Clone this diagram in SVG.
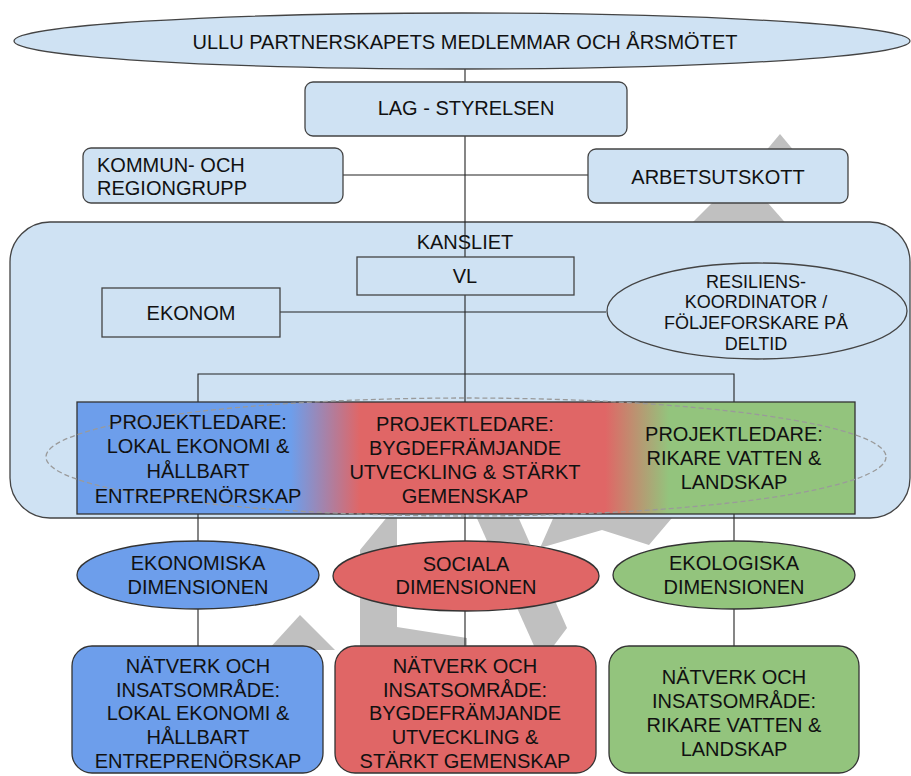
<svg xmlns="http://www.w3.org/2000/svg" width="911" height="776" viewBox="0 0 911 776">
<defs>
<linearGradient id="pl" x1="0" y1="0" x2="1" y2="0">
<stop offset="0" stop-color="#6d9eeb"/>
<stop offset="0.275" stop-color="#6d9eeb"/>
<stop offset="0.364" stop-color="#e06666"/>
<stop offset="0.679" stop-color="#e06666"/>
<stop offset="0.761" stop-color="#93c47d"/>
<stop offset="1" stop-color="#93c47d"/>
</linearGradient>
<style>
text{font-family:"Liberation Sans",Arial,sans-serif;font-size:20px;fill:#111;text-anchor:middle}
.lb{fill:#cfe2f3;stroke:#444;stroke-width:1.3}
.bl{fill:#6d9eeb;stroke:#333;stroke-width:1.3}
.rd{fill:#e06666;stroke:#333;stroke-width:1.3}
.gr{fill:#93c47d;stroke:#333;stroke-width:1.3}
.wm{fill:#c0c0c0}
.cn{stroke:#222;stroke-width:1.1;fill:none}
.sm{font-size:18px}
</style>
</defs>
<rect width="911" height="776" fill="#fff"/>
<g id="watermark">
<polygon class="wm" points="780,134 800,158 760,158"/>
<polygon class="wm" points="721,194 760,194 790,228 687,228"/>
<polygon class="wm" points="268,650 300,615 335,650"/>
<polygon class="wm" points="360,660 360,550 397,505 397,627 467,638 467,660"/>
<polygon class="wm" points="471,505 513,505 567,628 552,648 535,648"/>
<polygon class="wm" points="559,505 683,505 649,545 602,530 540,548"/>
</g>
<g id="kansliet">
<rect class="lb" x="10" y="222" width="900" height="296" rx="40"/>
<text x="465" y="249">KANSLIET</text>
</g>
<g id="connectors">
<line class="cn" x1="465" y1="68" x2="465" y2="402"/>
<line class="cn" x1="343" y1="175" x2="588" y2="175"/>
<line class="cn" x1="280" y1="312" x2="606" y2="312"/>
<polyline class="cn" points="198,402 198,374 734,374 734,402"/>
<line class="cn" x1="198" y1="514" x2="198" y2="646"/>
<line class="cn" x1="465" y1="514" x2="465" y2="646"/>
<line class="cn" x1="734" y1="514" x2="734" y2="646"/>
</g>
<g id="arsmotet">
<ellipse class="lb" cx="462" cy="41" rx="448" ry="28"/>
<text x="465" y="49">ULLU PARTNERSKAPETS MEDLEMMAR OCH ÅRSMÖTET</text>
</g>
<g id="styrelsen">
<rect class="lb" x="305" y="82" width="322" height="54" rx="8"/>
<text x="466" y="115">LAG - STYRELSEN</text>
</g>
<g id="kommun">
<rect class="lb" x="83" y="148" width="260" height="55" rx="8"/>
<text x="97" y="172" style="text-anchor:start">KOMMUN- OCH</text>
<text x="97" y="195" style="text-anchor:start">REGIONGRUPP</text>
</g>
<g id="arbetsutskott">
<rect class="lb" x="588" y="149" width="260" height="54" rx="8"/>
<text x="718" y="184">ARBETSUTSKOTT</text>
</g>
<g id="vl">
<rect class="lb" x="357" y="257" width="217" height="38"/>
<text x="465" y="283">VL</text>
</g>
<g id="ekonom">
<rect class="lb" x="102" y="288" width="178" height="49"/>
<text x="191" y="320">EKONOM</text>
</g>
<g id="resiliens">
<ellipse class="lb" cx="757" cy="311" rx="150" ry="48"/>
<text class="sm" x="756" y="288">RESILIENS-</text>
<text class="sm" x="756" y="308">KOORDINATOR /</text>
<text class="sm" x="756" y="329">FÖLJEFORSKARE PÅ</text>
<text class="sm" x="756" y="350">DELTID</text>
</g>
<g id="projektledare">
<rect x="77" y="402" width="778" height="112" fill="url(#pl)" stroke="#333" stroke-width="1.3"/>
<ellipse cx="466" cy="457" rx="420" ry="59" fill="none" stroke="#9a9a9a" stroke-width="1.3" stroke-dasharray="5 3"/>
<text x="198" y="429">PROJEKTLEDARE:</text>
<text x="198" y="453">LOKAL EKONOMI &amp;</text>
<text x="198" y="478">HÅLLBART</text>
<text x="198" y="503">ENTREPRENÖRSKAP</text>
<text x="465" y="431">PROJEKTLEDARE:</text>
<text x="465" y="455">BYGDEFRÄMJANDE</text>
<text x="465" y="479">UTVECKLING &amp; STÄRKT</text>
<text x="465" y="503">GEMENSKAP</text>
<text x="734" y="441">PROJEKTLEDARE:</text>
<text x="734" y="465">RIKARE VATTEN &amp;</text>
<text x="734" y="489">LANDSKAP</text>
</g>
<g id="ekonomiska">
<ellipse class="bl" cx="198" cy="575" rx="121" ry="34"/>
<text x="198" y="570">EKONOMISKA</text>
<text x="198" y="594">DIMENSIONEN</text>
</g>
<g id="sociala">
<ellipse class="rd" cx="466" cy="576" rx="133" ry="35"/>
<text x="466" y="571">SOCIALA</text>
<text x="466" y="594">DIMENSIONEN</text>
</g>
<g id="ekologiska">
<ellipse class="gr" cx="734" cy="575" rx="121" ry="34"/>
<text x="734" y="570">EKOLOGISKA</text>
<text x="734" y="594">DIMENSIONEN</text>
</g>
<g id="natverk-ekonomi">
<rect class="bl" x="72" y="646" width="251" height="127" rx="20"/>
<text x="198" y="673">NÄTVERK OCH</text>
<text x="198" y="697">INSATSOMRÅDE:</text>
<text x="198" y="720">LOKAL EKONOMI &amp;</text>
<text x="198" y="744">HÅLLBART</text>
<text x="198" y="768">ENTREPRENÖRSKAP</text>
</g>
<g id="natverk-social">
<rect class="rd" x="335" y="646" width="261" height="127" rx="20"/>
<text x="465" y="673">NÄTVERK OCH</text>
<text x="465" y="697">INSATSOMRÅDE:</text>
<text x="465" y="720">BYGDEFRÄMJANDE</text>
<text x="465" y="744">UTVECKLING &amp;</text>
<text x="465" y="768">STÄRKT GEMENSKAP</text>
</g>
<g id="natverk-ekologi">
<rect class="gr" x="609" y="646" width="250" height="127" rx="20"/>
<text x="734" y="684">NÄTVERK OCH</text>
<text x="734" y="708">INSATSOMRÅDE:</text>
<text x="734" y="732">RIKARE VATTEN &amp;</text>
<text x="734" y="756">LANDSKAP</text>
</g>
</svg>
